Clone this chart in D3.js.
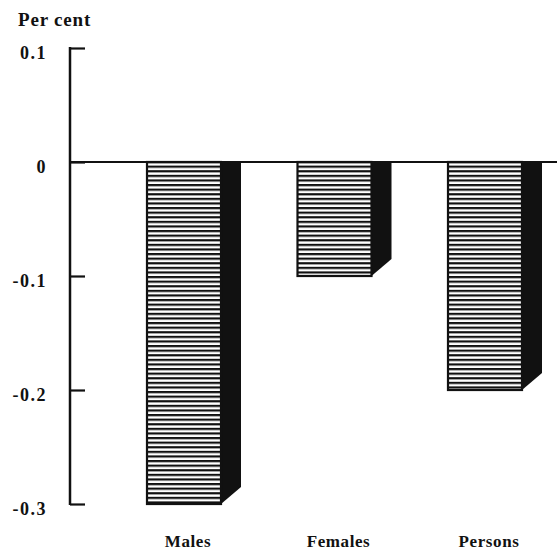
<!DOCTYPE html>
<html>
<head>
<meta charset="utf-8">
<script src="https://cdn.jsdelivr.net/npm/d3@7"></script>
<style>
  body { margin: 0; background: #fff; }
  svg text { font-family: "Liberation Serif", "DejaVu Serif", serif; font-weight: bold; fill: #111; }
</style>
</head>
<body>
<svg width="557" height="550"></svg>
<script>
// data
var categories = ["Males", "Females", "Persons"];
var values = [-0.3, -0.1, -0.2];
var tickValues = [0.1, 0, -0.1, -0.2, -0.3];
var tickLabels = ["0.1", "0", "-0.1", "-0.2", "-0.3"];

var svg = d3.select("svg");
var axisX = 70, barW = 74, depthX = 20, depthY = 17;

var y = d3.scaleLinear().domain([-0.3, 0.1]).range([504, 48]);
var x = d3.scalePoint().domain(categories).range([184, 485]);

// horizontal line hatch for bar fronts
var defs = svg.append("defs");
var pat = defs.append("pattern")
  .attr("id", "hatch")
  .attr("patternUnits", "userSpaceOnUse")
  .attr("width", 10).attr("height", 4.6);
pat.append("rect").attr("width", 10).attr("height", 4.6).attr("fill", "#fff");
pat.append("rect").attr("y", 0).attr("width", 10).attr("height", 2.2).attr("fill", "#111");

// title
svg.append("text").attr("x", 18).attr("y", 26)
  .attr("font-size", 19).attr("letter-spacing", 0.8).text("Per cent");

// bars
var bars = svg.append("g").selectAll("g")
  .data(categories)
  .enter().append("g");

bars.append("path")
  .attr("fill", "#111")
  .attr("d", function(d, i) {
    var xr = x(d) + barW / 2, y0 = y(0), yb = y(values[i]);
    return "M" + xr + "," + y0 + "L" + (xr + depthX) + "," + y0 +
      "L" + (xr + depthX) + "," + (yb - depthY) + "L" + xr + "," + yb + "Z";
  });

bars.append("rect")
  .attr("x", function(d) { return x(d) - barW / 2; })
  .attr("y", y(0))
  .attr("width", barW)
  .attr("height", function(d, i) { return y(values[i]) - y(0); })
  .attr("fill", "url(#hatch)")
  .attr("stroke", "#111")
  .attr("stroke-width", 2.2);

// y axis: ticks pointing right, labels placed to the left
var yAxis = d3.axisRight(y).tickValues(tickValues).tickSize(15).tickFormat("");
var ga = svg.append("g").attr("transform", "translate(" + axisX + ",0)").call(yAxis);
ga.select(".domain").remove();
ga.selectAll(".tick line").attr("stroke", "#111").attr("stroke-width", 2.2);
ga.append("line").attr("x1", 0).attr("x2", 0)
  .attr("y1", y(0.1) - 1).attr("y2", y(-0.3) + 1)
  .attr("stroke", "#111").attr("stroke-width", 2.5);

svg.append("g").selectAll("text")
  .data(tickValues)
  .enter().append("text")
  .attr("x", 47)
  .attr("y", function(d) { return y(d) + 11; })
  .attr("text-anchor", "end")
  .attr("font-size", 18)
  .attr("letter-spacing", 1.5)
  .text(function(d, i) { return tickLabels[i]; });

// zero line
svg.append("line")
  .attr("x1", axisX).attr("x2", 557)
  .attr("y1", y(0)).attr("y2", y(0))
  .attr("stroke", "#111").attr("stroke-width", 2.2);

// category labels
svg.append("g").selectAll("text")
  .data(categories)
  .enter().append("text")
  .attr("x", function(d) { return x(d) + 4; })
  .attr("y", 547)
  .attr("text-anchor", "middle")
  .attr("font-size", 17)
  .attr("letter-spacing", 0.6)
  .text(function(d) { return d; });
</script>
</body>
</html>
